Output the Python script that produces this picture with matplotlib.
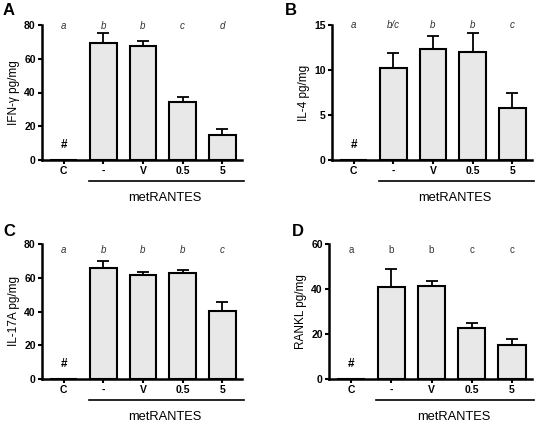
import matplotlib
matplotlib.use('Agg')
import matplotlib.pyplot as plt
import numpy as np

plt.rcParams['font.family'] = ['Liberation Sans', 'DejaVu Sans']

groups = ['C', '-', 'V', '0.5', '5']

ifn_mean = [0, 69.2, 67.5, 34.5, 14.8]
ifn_err = [0, 6.3, 3.3, 3.0, 3.3]
il4_mean = [0, 10.2, 12.3, 12.0, 5.8]
il4_err = [0, 1.7, 1.5, 2.1, 1.6]
il17_mean = [0, 65.5, 61.5, 63.0, 40.3]
il17_err = [0, 4.5, 2.0, 1.7, 5.5]
rankl_mean = [0, 41.1, 41.4, 22.6, 15.3]
rankl_err = [0, 7.6, 2.2, 2.4, 2.3]

letters_a = ['a', 'b', 'b', 'c', 'd']
letters_b = ['a', 'b/c', 'b', 'b', 'c']
letters_c = ['a', 'b', 'b', 'b', 'c']
letters_d = ['a', 'b', 'b', 'c', 'c']

panels = [
    ('A', 'IFN-\u03b3 pg/mg', ifn_mean, ifn_err, letters_a, 80, [0, 20, 40, 60, 80], True, 0.99),
    ('B', 'IL-4 pg/mg', il4_mean, il4_err, letters_b, 15, [0, 5, 10, 15], True, 1.0),
    ('C', 'IL-17A pg/mg', il17_mean, il17_err, letters_c, 80, [0, 20, 40, 60, 80], True, 0.955),
    ('D', 'RANKL pg/mg', rankl_mean, rankl_err, letters_d, 60, [0, 20, 40, 60], False, 0.955),
]

# axes positions in pixels: left, right, top, bottom
W, H = 537, 424
boxes = [(42, 242, 25, 160), (332, 532, 25, 160), (42, 242, 244, 379), (329, 532, 244, 379)]
label_pos = [(3, 3), (285, 3), (3, 224), (292, 224)]

fig = plt.figure(figsize=(5.37, 4.24), dpi=100)
x = np.arange(len(groups))

for (tag, ylab, mean, err, lets, ymax, yticks, ital, lety), (l, r, t, b), (lx, ly) in zip(panels, boxes, label_pos):
    ax = fig.add_axes([l / W, 1 - b / H, (r - l) / W, (b - t) / H])
    ax.bar(x, mean, width=0.68, color='#e8e8e8', edgecolor='black', linewidth=1.5, zorder=2)
    ax.errorbar(x[1:], mean[1:], yerr=[np.zeros(4), err[1:]], fmt='none', ecolor='black',
                elinewidth=1.3, capsize=4.5, capthick=1.3, zorder=1)
    ax.set_xlim(-0.55, 4.5)
    ax.set_ylim(0, ymax)
    ax.set_yticks(yticks)
    ax.set_xticks(x)
    ax.set_xticklabels(groups, fontweight='bold', fontsize=7.5)
    for lab in ax.get_yticklabels():
        lab.set_fontweight('bold')
        lab.set_fontsize(7.5)
    ax.tick_params(axis='both', direction='out', length=3, width=1.5, pad=1.5)
    ax.spines['top'].set_visible(False)
    ax.spines['right'].set_visible(False)
    ax.spines['left'].set_linewidth(1.8)
    ax.spines['bottom'].set_linewidth(1.8)
    ax.set_ylabel(ylab, fontsize=8.5, labelpad=3)
    for xi, s in zip(x, lets):
        ax.text(xi, lety * ymax, s, ha='center', va='center', fontsize=7,
                style='italic' if ital else 'normal', color='#333333')
    ax.text(0, 0.11 * ymax, '#', ha='center', va='center', fontsize=8.5, fontweight='bold')
    # underline for metRANTES group
    ax.plot([0.63, 4.55], [-0.155 * ymax, -0.155 * ymax], color='black', lw=1.2,
            clip_on=False, transform=ax.transData)
    ax.text(2.55, -0.28 * ymax, 'metRANTES', ha='center', va='center', fontsize=9.3)
    fig.text(lx / W, 1 - ly / H, tag, ha='left', va='top', fontsize=12, fontweight='bold')

fig.savefig('out.png', dpi=100)
